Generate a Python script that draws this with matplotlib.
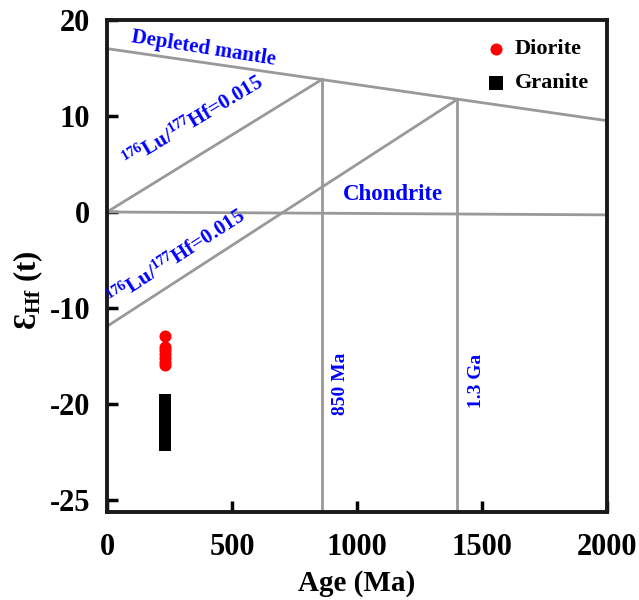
import numpy as np
import matplotlib
matplotlib.use('Agg')
import matplotlib.pyplot as plt

plt.rcParams['font.family'] = ['Liberation Serif', 'DejaVu Serif']
plt.rcParams['font.weight'] = 'bold'
plt.rcParams['mathtext.fontset'] = 'custom'
plt.rcParams['mathtext.rm'] = 'Liberation Serif'
plt.rcParams['mathtext.bf'] = 'Liberation Serif:bold'
plt.rcParams['mathtext.it'] = 'Liberation Serif:italic:bold'

# reference lines (age Ma, eHf)
dm_x = [0, 2000]
dm_y = [17.0, 9.5]
chur_x = [0, 2000]
chur_y = [0.0, -0.3]
crust1_x = [0, 860]
crust1_y = [0.0, 13.8]
crust2_x = [0, 1400]
crust2_y = [-11.9, 11.7]
vline_ages = [860, 1400]
vline_tops = [13.8, 11.7]

# samples
diorite_age = [230, 230, 230, 230, 230, 230, 230]
diorite_ehf = [-12.9, -14.0, -14.4, -14.8, -15.2, -15.6, -15.9]
granite_age = [230] * 11
granite_ehf = [-19.6, -20.1, -20.6, -21.0, -21.5, -22.0, -22.4, -22.9, -23.4, -23.9, -24.3]

yticks = [20, 10, 0, -10, -20, -30]
ytick_labels = ['20', '10', '0', '-10', '-20', '-25']
xticks = [0, 500, 1000, 1500, 2000]

fig = plt.figure(figsize=(6.39, 6.0), dpi=100)
ax = fig.add_axes([0.1675, 0.147, 0.7825, 0.82])
ymin, ymax = -31.2, 20
gray = '#999999'
lw = 2.0

ax.plot(dm_x, dm_y, color=gray, lw=lw)
ax.plot(chur_x, chur_y, color=gray, lw=lw)
ax.plot(crust1_x, crust1_y, color=gray, lw=lw)
ax.plot(crust2_x, crust2_y, color=gray, lw=lw)
for a, t in zip(vline_ages, vline_tops):
  ax.plot([a, a], [ymin, t], color=gray, lw=lw)

ax.scatter(diorite_age, diorite_ehf, s=75, marker='o', color='#ff0000', zorder=3, linewidths=0)
ax.scatter(granite_age, granite_ehf, s=75, marker='s', color='black', zorder=3, linewidths=0)

blue = '#0000ff'
ax.text(385, 17.0, 'Depleted mantle', color=blue, fontsize=15, rotation=-9,
        ha='center', va='center', fontweight='bold')
lu = r'$\mathbf{^{176}}$Lu/$\mathbf{^{177}}$Hf=0.015'
ax.text(344, 9.3, lu, color=blue, fontsize=15, rotation=31, ha='center', va='center')
ax.text(280, -4.8, lu, color=blue, fontsize=15, rotation=33, ha='center', va='center')
ax.text(1145, 1.8, 'Chondrite', color=blue, fontsize=16.5, ha='center', va='center', fontweight='bold')
ax.text(935, -17.9, '850 Ma', color=blue, fontsize=14, rotation=90, ha='center', va='center')
ax.text(1478, -17.6, '1.3 Ga', color=blue, fontsize=14, rotation=90, ha='center', va='center')

# legend drawn by hand in axes coords
ax.scatter([0.778], [0.941], s=75, marker='o', color='#ff0000', transform=ax.transAxes, linewidths=0)
ax.text(0.816, 0.941, 'Diorite', transform=ax.transAxes, fontsize=16, va='center')
ax.scatter([0.778], [0.872], s=90, marker='s', color='black', transform=ax.transAxes, linewidths=0)
ax.text(0.816, 0.872, 'Granite', transform=ax.transAxes, fontsize=16, va='center')

ax.set_xlim(0, 2000)
ax.set_ylim(ymin, ymax)
ax.set_xticks(xticks)
ax.set_yticks(yticks)
ax.set_yticklabels(ytick_labels)
ax.tick_params(direction='in', length=8, width=2.5, labelsize=22)
ax.tick_params(axis='x', pad=15)
ax.tick_params(axis='y', pad=12)
for sp in ax.spines.values():
  sp.set_linewidth(2.8)
  sp.set_color('#1a1a1a')

ax.set_xlabel('Age (Ma)', fontsize=21, fontweight='bold', labelpad=6)
ax.set_ylabel(r'$\mathbf{Ɛ_{Hf}}$ (t)', fontsize=22, fontweight='bold')
ax.yaxis.set_label_coords(-0.125, 0.45)

plt.savefig('out.png', dpi=100)
